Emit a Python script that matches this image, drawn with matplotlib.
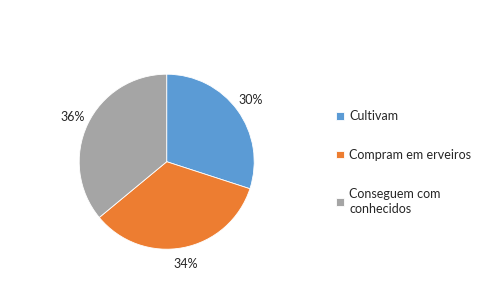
import matplotlib.pyplot as plt

# dados
categorias = ["Cultivam", "Compram em erveiros", "Conseguem com\nconhecidos"]
valores = [30, 34, 36]
cores = ["#5B9BD5", "#ED7D31", "#A5A5A5"]

plt.rcParams['font.family'] = ['Lato', 'DejaVu Sans']

fig = plt.figure(figsize=(4.91, 2.85), dpi=100)
W, H = 491, 285
cx, cy, r = 166.7, 161.7, 87.5
ax = fig.add_axes([(cx - r) / W, 1 - (cy + r) / H, 2 * r / W, 2 * r / H])

wedges, textos, pcts = ax.pie(valores, colors=cores, startangle=90, counterclock=False,
                              autopct='%1.0f%%', pctdistance=1.19, radius=1,
                              wedgeprops=dict(edgecolor='white', linewidth=0.6),
                              textprops=dict(fontsize=9, color='#262626'))
ax.set_xlim(-1, 1)
ax.set_ylim(-1, 1)
ax.set_aspect('equal')

leg = fig.legend(wedges, categorias, loc='upper left', bbox_to_anchor=(331 / W, 1 - 105 / H),
                 frameon=False, fontsize=9, handlelength=0.6, handleheight=0.6,
                 handletextpad=0.45, labelspacing=2.15, borderaxespad=0)
for t in leg.get_texts():
    t.set_color('#262626')
    t.set_linespacing(1.3)

fig.savefig('out.png', dpi=100)
